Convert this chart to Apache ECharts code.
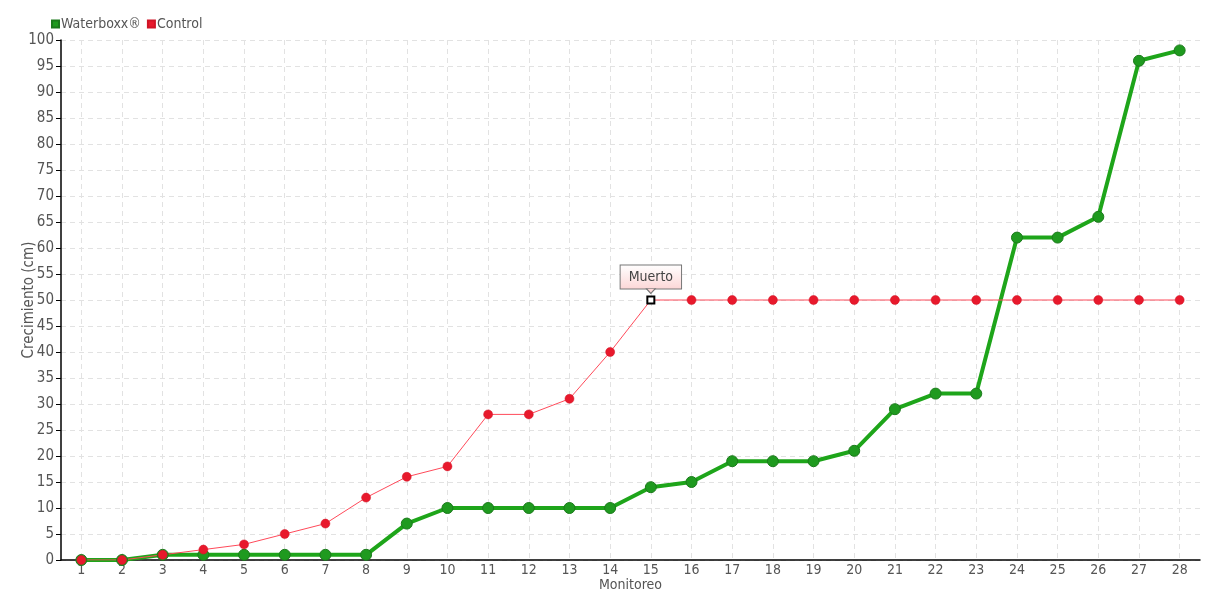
<!DOCTYPE html>
<html><head><meta charset="utf-8">
<script src="https://cdn.jsdelivr.net/npm/echarts@6/dist/echarts.min.js"></script>
<style>html,body{margin:0;padding:0;background:#fff}#c{width:1220px;height:600px}</style>
</head><body><div id="c"></div>
<script>
const categories = ['1','2','3','4','5','6','7','8','9','10','11','12','13','14','15','16','17','18','19','20','21','22','23','24','25','26','27','28'];
const waterboxx = [0,0,1,1,1,1,1,1,7,10,10,10,10,10,14,15,19,19,19,21,29,32,32,62,62,66,96,98];
const control = [0,0,1,2,3,5,7,12,16,18,28,28,31,40,50,50,50,50,50,50,50,50,50,50,50,50,50,50];
const annotationIndex = 14;
const annotationText = 'Muerto';

const FONT = '"DejaVu Sans Condensed", "Liberation Sans Narrow", sans-serif';
const controlData = control.map((v, i) => i === annotationIndex ? {
  value: v,
  symbol: 'rect', symbolSize: 7,
  itemStyle: {color: '#fff', borderColor: '#000', borderWidth: 2},
  label: {
    show: true, position: 'top', distance: 7, formatter: annotationText,
    fontFamily: FONT, fontSize: 14, color: '#444',
    backgroundColor: {type: 'linear', x: 0, y: 0, x2: 0, y2: 1,
      colorStops: [{offset: 0, color: '#ffffff'}, {offset: 1, color: '#fcd6d6'}]},
    borderColor: '#777', borderWidth: 1, padding: [5, 8, 4, 8]
  }
} : v);

const chart = echarts.init(document.getElementById('c'), null, {renderer: 'canvas'});
chart.setOption({
  animation: false,
  textStyle: {fontFamily: FONT},
  legend: {
    left: 46, top: 12, itemWidth: 7, itemHeight: 7, itemGap: 6,
    icon: 'rect',
    textStyle: {fontFamily: FONT, fontSize: 14, color: '#555', padding: [0, 0, 0, -3]},
    data: ['Waterboxx®', 'Control']
  },
  grid: {left: 61, right: 20, top: 40, bottom: 40, containLabel: false},
  xAxis: {
    type: 'category', data: categories, boundaryGap: true,
    name: 'Monitoreo', nameLocation: 'middle', nameGap: 18, nameMoveOverlap: false,
    nameTextStyle: {fontFamily: FONT, fontSize: 14, color: '#555'},
    axisLine: {lineStyle: {color: '#000', width: 1.5}},
    axisTick: {alignWithLabel: true, length: 5, lineStyle: {color: '#000'}},
    axisLabel: {fontFamily: FONT, fontSize: 14, color: '#555', margin: 3},
    splitLine: {show: true, alignWithLabel: true, lineStyle: {color: '#e2e2e2', type: [5, 4]}}
  },
  yAxis: {
    type: 'value', min: 0, max: 100, interval: 5,
    name: 'Crecimiento (cm)', nameLocation: 'middle', nameGap: 24, nameMoveOverlap: false,
    nameTextStyle: {fontFamily: FONT, fontSize: 15, color: '#555'},
    axisLine: {show: true, lineStyle: {color: '#000', width: 1.5}},
    axisTick: {show: true, length: 5, lineStyle: {color: '#000'}},
    axisLabel: {fontFamily: FONT, fontSize: 15, color: '#555', margin: 7},
    splitLine: {show: true, lineStyle: {color: '#e2e2e2', type: [5, 4]}}
  },
  series: [
    {
      name: 'Waterboxx®', type: 'line', data: waterboxx,
      symbol: 'circle', symbolSize: 11,
      lineStyle: {color: '#1ea51a', width: 4},
      itemStyle: {color: '#1f9a1f', borderColor: '#1b7a1b', borderWidth: 1},
      color: '#1ea51a'
    },
    {
      name: 'Control', type: 'line', data: controlData,
      symbol: 'circle', symbolSize: 9,
      lineStyle: {color: '#ff4a5a', width: 1},
      itemStyle: {color: '#e8192c', borderColor: '#d01426', borderWidth: 0.5},
      color: '#e8192c',
      markPoint: {
        silent: true,
        data: [{coord: [annotationIndex, control[annotationIndex]]}],
        symbol: 'triangle', symbolRotate: 180, symbolSize: [9, 5], symbolOffset: [0, -9],
        itemStyle: {color: '#fdd8d8', borderColor: '#777', borderWidth: 1},
        label: {show: false}
      }
    }
  ]
});
</script></body></html>
